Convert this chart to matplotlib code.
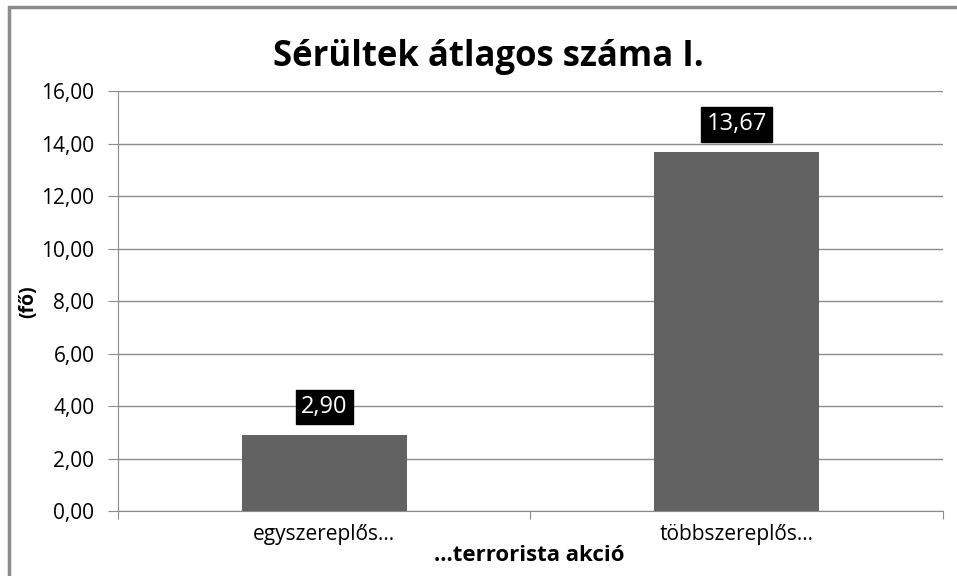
import matplotlib.pyplot as plt
from matplotlib.patches import Rectangle

plt.rcParams['font.family'] = ['Open Sans', 'DejaVu Sans']

# data
categories = ['egyszereplős...', 'többszereplős...']
values = [2.90, 13.67]
yticks = [0, 2, 4, 6, 8, 10, 12, 14, 16]

fig = plt.figure(figsize=(9.57, 5.76), dpi=100)
# plot area roughly x 118..943, y 91..511 px
ax = fig.add_axes([0.1233, 0.1128, 0.862, 0.729])

x = [0.5, 1.5]
ax.bar(x, values, width=0.4, color='#626262', zorder=3)
ax.set_xlim(0, 2)
ax.set_ylim(0, 16)

ax.set_yticks(yticks)
ax.set_yticklabels([f'{v:.2f}'.replace('.', ',') for v in yticks], fontsize=15)
ax.yaxis.grid(True, color='#8c8c8c', linewidth=1, zorder=0)
ax.tick_params(axis='y', length=7, color='#8c8c8c', pad=10)

# category ticks sit on the boundaries, labels in the middle
ax.set_xticks([0, 1, 2])
ax.set_xticklabels([])
ax.set_xticks(x, minor=True)
ax.set_xticklabels(categories, minor=True, fontsize=15)
ax.tick_params(axis='x', which='major', length=6, color='#8c8c8c')
ax.tick_params(axis='x', which='minor', length=0, pad=9)

for s in ['top', 'right']:
    ax.spines[s].set_visible(False)
for s in ['left', 'bottom']:
    ax.spines[s].set_color('#8c8c8c')

for xi, v in zip(x, values):
    ax.annotate(f'{v:.2f}'.replace('.', ','), (xi, v), xytext=(0, 20),
                textcoords='offset points', ha='center', va='center',
                color='white', fontsize=17,
                bbox=dict(boxstyle='square,pad=0.22', fc='black', ec='black'))

fig.text(0.51, 0.901, 'Sérültek átlagos száma I.', ha='center', va='center',
         fontsize=25, fontweight='bold')
fig.text(0.029, 0.476, '(fő)', rotation=90, ha='center', va='center',
         fontsize=14, fontweight='bold')
fig.text(0.553, 0.036, '...terrorista akció', ha='center', va='center',
         fontsize=16, fontweight='bold')

# chart frame, only left and top edges are inside the picture
fig.patches.append(Rectangle((0.0094, -0.1), 1.2, 1.088, transform=fig.transFigure,
                             fill=False, ec='#8c8c8c', lw=2.5))

fig.savefig('out.png', dpi=100)
